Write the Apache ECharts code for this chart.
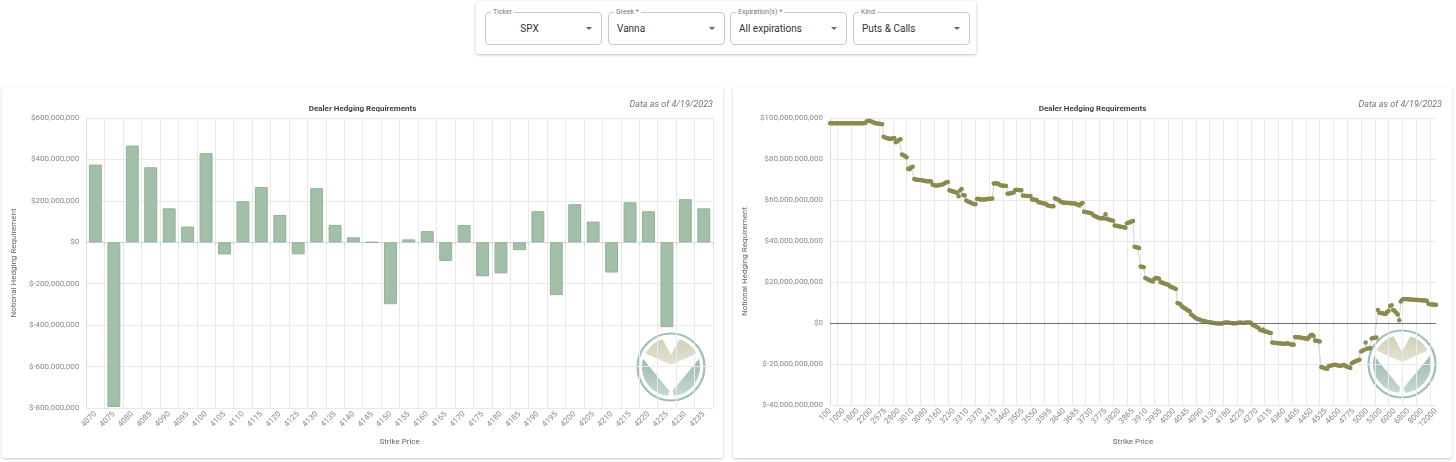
<!DOCTYPE html>
<html>
<head>
<meta charset="utf-8">
<title>Dealer Hedging Requirements</title>
<script src="https://cdn.jsdelivr.net/npm/echarts@6/dist/echarts.min.js"></script>
<style>
  body {
    margin: 0;
    background: #fff;
    font-family: Roboto, "Noto Sans", sans-serif;
    width: 1456px;
    height: 462px;
    overflow: hidden;
    position: relative;
  }
  .filters {
    position: absolute;
    left: 476px;
    top: 1px;
    width: 500px;
    height: 53px;
    background: #fff;
    border-radius: 2px;
    box-shadow: 0 1px 3px rgba(0, 0, 0, 0.25);
  }
  .field {
    position: absolute;
    top: 11px;
    width: 117px;
    height: 33px;
    box-sizing: border-box;
    border: 1px solid #c9c9c9;
    border-radius: 4px;
  }
  .field .lbl {
    position: absolute;
    top: -5px;
    left: 5px;
    padding: 0 2px;
    background: #fff;
    font-size: 7px;
    line-height: 9px;
    color: #777;
  }
  .field .val {
    position: absolute;
    left: 8px;
    right: 28px;
    top: 0;
    line-height: 31px;
    font-size: 10px;
    color: #333;
    white-space: nowrap;
  }
  .field .val.center { text-align: center; left: 0; }
  .field .arrow {
    position: absolute;
    right: 9px;
    top: 14px;
    width: 0;
    height: 0;
    border-left: 3px solid transparent;
    border-right: 3px solid transparent;
    border-top: 3.5px solid #666;
  }
  .card {
    position: absolute;
    top: 87px;
    height: 371px;
    background: #fff;
    border-radius: 2px;
    box-shadow: 0 1px 3px rgba(0, 0, 0, 0.22);
  }
  .chart { width: 100%; height: 100%; }
</style>
</head>
<body>

<div class="filters">
  <div class="field" style="left:9px"><span class="lbl">Ticker</span><span class="val center">SPX</span><span class="arrow"></span></div>
  <div class="field" style="left:132px"><span class="lbl">Greek *</span><span class="val">Vanna</span><span class="arrow"></span></div>
  <div class="field" style="left:254px"><span class="lbl">Expiration(s) *</span><span class="val">All expirations</span><span class="arrow"></span></div>
  <div class="field" style="left:377px"><span class="lbl">Kind</span><span class="val">Puts &amp; Calls</span><span class="arrow"></span></div>
</div>

<div class="card" style="left:2px;width:721px"><div class="chart" id="left"></div></div>
<div class="card" style="left:733px;width:719px"><div class="chart" id="right"></div></div>

<script>
// ---- left chart: vanna by strike, in millions of dollars ----
const strikes = [4070, 4075, 4080, 4085, 4090, 4095, 4100, 4105, 4110, 4115, 4120, 4125,
  4130, 4135, 4140, 4145, 4150, 4155, 4160, 4165, 4170, 4175, 4180, 4185, 4190, 4195,
  4200, 4205, 4210, 4215, 4220, 4225, 4230, 4235];
const vannaMillions = [375, -795, 467, 362, 164, 76, 430, -59, 198, 267, 132, -58,
  261, 84, 24, 0, -299, 14, 54, -90, 83, -164, -150, -38, 150, -255,
  184, 100, -146, 193, 150, -410, 208, 164];

// ---- right chart: cumulative vanna, in billions of dollars ----
const tickStrikes = [100, 1000, 1800, 2200, 2575, 2800, 3010, 3080, 3160, 3230, 3310, 3370,
  3415, 3460, 3505, 3550, 3595, 3640, 3685, 3730, 3775, 3820, 3865, 3910, 3955, 4000,
  4045, 4090, 4135, 4180, 4225, 4270, 4315, 4360, 4405, 4450, 4525, 4600, 4775, 5000,
  5300, 6000, 6800, 8000, 12000];
const perTick = 9; // points between two labelled strikes

// one row per labelled interval
const cumulativeBillions = [
  97.5, 97.5, 97.5, 97.5, 97.5, 97.5, 97.5, 97.5, 97.5,
  97.5, 97.5, 97.5, 97.5, 97.5, 97.5, 97.5, 97.5, 97.5,
  97.5, 97.5, 97.5, 97.5, 97.5, 97.6, 98.4, 98.6, 98.5,
  98.3, 98.0, 97.6, 97.4, 97.3, 97.2, 97.1, 97.0, 90.8,
  90.5, 90.2, 90.0, 89.9, 89.9, 90.0, 90.2, 88.2, 88.6,
  89.3, 89.6, 82.2, 81.8, 81.4, 80.9, 75.3, 75.0, 76.0,
  76.2, 70.2, 70.0, 69.9, 69.8, 69.7, 69.6, 69.5, 69.3,
  69.2, 69.2, 69.1, 69.0, 67.4, 67.2, 67.1, 67.1, 67.2,
  67.3, 67.5, 67.8, 68.2, 68.6, 68.8, 64.8, 64.5, 64.2,
  64.0, 63.8, 63.5, 61.8, 64.6, 65.4, 62.4, 62.2, 59.8,
  59.4, 59.0, 58.6, 58.3, 58.1, 57.9, 60.5, 60.6, 60.3,
  60.3, 60.2, 60.3, 60.4, 60.5, 60.6, 60.6, 60.7, 68.0,
  68.1, 68.1, 67.9, 67.3, 67.1, 67.0, 66.9, 66.8, 63.1,
  63.2, 63.3, 63.4, 63.6, 64.9, 65.0, 64.9, 64.8, 64.8,
  62.2, 62.1, 62.0, 62.0, 61.9, 61.9, 60.3, 60.2, 60.1,
  60.0, 59.0, 58.8, 58.6, 58.4, 58.3, 58.2, 57.4, 57.2,
  57.1, 57.0, 57.0, 60.8, 60.5, 60.1, 59.7, 59.0, 58.8,
  58.7, 58.6, 58.5, 58.5, 58.4, 58.4, 58.3, 58.3, 58.0,
  57.6, 57.3, 58.2, 58.5, 54.3, 54.2, 54.0, 53.8, 53.6,
  53.4, 52.6, 52.2, 51.8, 51.5, 51.2, 51.0, 51.3, 51.0,
  53.0, 50.8, 50.5, 50.3, 50.1, 49.9, 47.6, 47.5, 47.3,
  47.1, 47.0, 46.8, 46.7, 46.5, 48.6, 48.9, 49.2, 49.5,
  49.8, 37.2, 37.0, 36.8, 36.6, 27.6, 27.4, 27.2, 22.0,
  21.6, 21.2, 20.8, 20.5, 20.3, 21.6, 21.9, 21.8, 21.6,
  19.9, 19.7, 19.4, 19.1, 18.9, 18.7, 17.9, 17.6, 17.3,
  17.0, 16.6, 9.8, 9.5, 9.1, 8.1, 7.6, 7.1, 6.6,
  6.1, 5.7, 4.1, 3.6, 3.0, 2.5, 2.0, 1.8, 1.5,
  1.2, 1.0, 0.8, 0.6, 0.5, 0.4, 0.2, 0.1, 0.0,
  -0.1, -0.2, -0.3, -0.3, -0.2, 0.0, 0.2, 0.3, 0.2,
  0.1, 0.0, -0.1, -0.2, -0.1, 0.0, 0.1, 0.2, 0.1,
  0.0, 0.1, 0.2, 0.3, 0.2, 0.1, -0.8, -1.2, -1.6,
  -2.0, -2.4, -3.3, -3.6, -3.2, -4.1, -4.1, -4.4, -4.7,
  -4.9, -9.5, -9.6, -9.7, -9.8, -9.9, -10.0, -10.0, -10.1,
  -10.1, -10.0, -9.9, -10.2, -10.4, -10.5, -10.6, -6.8, -6.9,
  -7.0, -7.1, -7.2, -7.3, -7.4, -7.6, -7.8, -7.0, -6.0,
  -5.7, -6.3, -8.5, -8.7, -8.8, -9.0, -21.5, -21.8, -22.0,
  -22.2, -22.3, -21.0, -20.8, -20.6, -20.5, -20.4, -20.5, -20.7,
  -20.9, -20.8, -20.6, -20.5, -21.0, -21.3, -21.6, -22.0, -19.6,
  -19.2, -18.8, -18.5, -18.2, -17.9, -13.9, -13.5, -13.2, -9.5,
  -12.6, -12.4, -12.2, -7.5, -7.3, -7.2, -7.1, 6.3, 5.0,
  4.9, 4.7, 4.5, 4.4, 5.2, 6.0, 8.3, 8.6, 6.3,
  5.8, 5.0, 4.2, 1.3, 10.5, 11.3, 11.7, 11.7, 11.6,
  11.6, 11.5, 11.5, 11.4, 11.3, 11.3, 11.2, 11.2, 11.1,
  11.1, 11.0, 11.0, 10.9, 9.4, 9.1, 9.0, 9.0, 8.9,
  8.9
];

// category names: labelled strikes plus the unlabelled ones between them
const allStrikes = [];
for (let i = 0; i < tickStrikes.length - 1; i++) {
  const a = tickStrikes[i], b = tickStrikes[i + 1];
  for (let k = 0; k < perTick; k++) allStrikes.push(String(Math.round(a + (b - a) * k / perTick)));
}
allStrikes.push(String(tickStrikes[tickStrikes.length - 1]));

const FONT = 'Roboto, "Noto Sans", sans-serif';
const GRID_LINE = '#e9e9e9';

function titles() {
  return [
    {
      text: 'Dealer Hedging Requirements',
      left: 'center',
      top: 13,
      textStyle: { fontSize: 8, fontWeight: 'bold', color: '#444', fontFamily: FONT }
    },
    {
      text: 'Data as of 4/19/2023',
      right: 5,
      top: 8,
      textStyle: { fontSize: 9, fontStyle: 'italic', fontWeight: 'normal', color: '#777', fontFamily: FONT }
    }
  ];
}

function arc(r, a0, a1, n) {
  const pts = [];
  for (let k = 0; k <= n; k++) {
    const a = (a0 + (a1 - a0) * k / n) * Math.PI / 180;
    pts.push([r * Math.cos(a), r * Math.sin(a)]);
  }
  return pts;
}

// the round "V" watermark in the lower right corner
function logo(x, y) {
  const R = 29;
  const tan = new echarts.graphic.LinearGradient(0, 0, 0, 1, [
    { offset: 0, color: '#d1d0b8' }, { offset: 1, color: '#e4e3d4' }]);
  const teal = new echarts.graphic.LinearGradient(0, 0, 0, 1, [
    { offset: 0, color: '#9cb9b0' }, { offset: 1, color: '#c6d8d2' }]);
  const chevron = arc(R, 208, 253, 12)
    .concat([[0, -12]])
    .concat(arc(R, 287, 332, 12))
    .concat([[0, -2]]);
  return {
    type: 'group',
    x: x,
    y: y,
    z: 100,
    silent: true,
    children: [
      { type: 'circle', shape: { cx: 0, cy: 0, r: 33.5 },
        style: { fill: 'rgba(255,255,255,0.8)', stroke: '#9fbeb5', lineWidth: 2.2 } },
      { type: 'polygon', shape: { points: chevron }, style: { fill: tan } },
      { type: 'polygon', shape: { points: arc(R, 196, 96, 24).concat([[-1.5, 24]]) }, style: { fill: teal } },
      { type: 'polygon', shape: { points: arc(R, -16, 84, 24).concat([[1.5, 24]]) }, style: { fill: teal } }
    ]
  };
}

// ---------- left chart ----------
const leftChart = echarts.init(document.getElementById('left'));
leftChart.setOption({
  animation: false,
  title: titles(),
  grid: { left: 82, right: 10, top: 31, bottom: 50 },
  xAxis: {
    type: 'category',
    data: strikes,
    name: 'Strike Price',
    nameLocation: 'middle',
    nameGap: 30,
    nameTextStyle: { fontSize: 8, color: '#666', fontFamily: FONT },
    axisLine: { lineStyle: { color: '#d6d6d6' } },
    axisTick: { show: true, interval: 0, length: 3, lineStyle: { color: '#d6d6d6' } },
    axisLabel: { interval: 0, rotate: 45, fontSize: 8, color: '#888', margin: 5, fontFamily: FONT },
    splitLine: { show: true, interval: 0, lineStyle: { color: GRID_LINE } }
  },
  yAxis: {
    type: 'value',
    min: -800,
    max: 600,
    interval: 200,
    name: 'Notional Hedging Requirement',
    nameLocation: 'middle',
    nameGap: 57,
    nameTextStyle: { fontSize: 8, color: '#666', fontFamily: FONT },
    axisLine: { show: true, lineStyle: { color: '#dedede' } },
    axisLabel: {
      fontSize: 8, color: '#888', margin: 7, fontFamily: FONT,
      formatter: v => '$' + (v * 1e6).toLocaleString('en-US')
    },
    splitLine: { lineStyle: { color: GRID_LINE } }
  },
  series: [{
    type: 'bar',
    data: vannaMillions,
    barWidth: '70%',
    itemStyle: { color: '#a2bfa8', borderColor: '#92b299', borderWidth: 1 }
  }],
  graphic: [logo(669, 280)]
});

// ---------- right chart ----------
const rightChart = echarts.init(document.getElementById('right'));
const onLabel = i => i % perTick === 0;
const onGrid = i => i % perTick === 5;
rightChart.setOption({
  animation: false,
  title: titles(),
  grid: { left: 91, right: 16, top: 31, bottom: 53 },
  xAxis: {
    type: 'category',
    data: allStrikes,
    boundaryGap: false,
    name: 'Strike Price',
    nameLocation: 'middle',
    nameGap: 33,
    nameTextStyle: { fontSize: 8, color: '#666', fontFamily: FONT },
    axisLine: { lineStyle: { color: '#d6d6d6' } },
    axisTick: { show: true, interval: onGrid, length: 3, lineStyle: { color: '#d6d6d6' } },
    axisLabel: { interval: onLabel, rotate: 45, fontSize: 8, color: '#888', margin: 5, fontFamily: FONT },
    splitLine: { show: true, interval: onGrid, lineStyle: { color: GRID_LINE } }
  },
  yAxis: {
    type: 'value',
    min: -40,
    max: 100,
    interval: 20,
    name: 'Notional Hedging Requirement',
    nameLocation: 'middle',
    nameGap: 66,
    nameTextStyle: { fontSize: 8, color: '#666', fontFamily: FONT },
    axisLine: { show: true, lineStyle: { color: '#dedede' } },
    axisLabel: {
      fontSize: 8, color: '#888', margin: 7, fontFamily: FONT,
      formatter: v => '$' + Math.round(v * 1e9).toLocaleString('en-US')
    },
    splitLine: { lineStyle: { color: GRID_LINE } }
  },
  series: [{
    type: 'line',
    data: cumulativeBillions,
    symbol: 'circle',
    symbolSize: 4.5,
    showAllSymbol: true,
    itemStyle: { color: '#8b8a4f' },
    lineStyle: { color: '#d2d2d2', width: 1 },
    markLine: {
      silent: true,
      symbol: 'none',
      label: { show: false },
      lineStyle: { color: '#6f6f6f', type: 'solid', width: 1.2 },
      data: [{ yAxis: 0 }]
    }
  }],
  graphic: [logo(669, 277)]
});
</script>
</body>
</html>
